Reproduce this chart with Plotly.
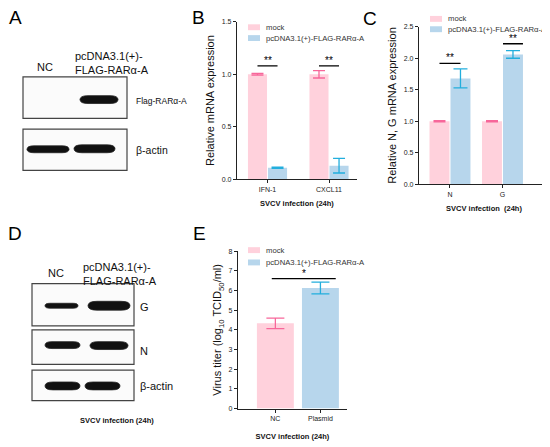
import plotly.graph_objects as go

# window is 550x447, the page body adds an 8 px margin
W, H = 550, 447
PAGE_MARGIN = 8
FW, FH = W - PAGE_MARGIN, H - PAGE_MARGIN

# ---- data ----
series_names = ["mock", "pcDNA3.1(+)-FLAG-RARα-A"]

b_genes = ["IFN-1", "CXCL11"]
b_mock = [1.0, 1.0]
b_mock_err = [0.008, 0.035]
b_rar = [0.11, 0.13]
b_rar_err = [0.005, 0.07]

c_genes = ["N", "G"]
c_mock = [1.0, 1.0]
c_mock_err = [0.008, 0.008]
c_rar = [1.68, 2.06]
c_rar_err = [0.15, 0.06]

e_groups = ["NC", "Plasmid"]
e_titer = [4.33, 6.13]
e_titer_err = [0.27, 0.30]

b_sig = ["**", "**"]
c_sig = ["**", "**"]
e_sig = ["*"]

PINK = "#FFD1DC"
BLUE = "#B7D6EC"
PINK_ERR = "#F7679A"
BLUE_ERR = "#22AEDD"
FONT = "Arial, Liberation Sans, sans-serif"


def px(x):
    # screen pixel -> paper fraction
    return (x - PAGE_MARGIN) / FW


def py(y):
    return 1 - (y - PAGE_MARGIN) / FH


fig = go.Figure()

# ---- B ----
bw, bg = 0.31, 0.008
fig.add_trace(go.Bar(x=b_genes, y=b_mock, width=bw, offset=-bw - bg,
                     marker=dict(color=PINK, line_width=0),
                     error_y=dict(array=b_mock_err, color=PINK_ERR, thickness=1.3, width=6),
                     xaxis="x", yaxis="y", showlegend=False))
fig.add_trace(go.Bar(x=b_genes, y=b_rar, width=bw, offset=bg,
                     marker=dict(color=BLUE, line_width=0),
                     error_y=dict(array=b_rar_err, color=BLUE_ERR, thickness=1.3, width=6),
                     xaxis="x", yaxis="y", showlegend=False))

# ---- C ----
cw, cg = 0.38, 0.01
fig.add_trace(go.Bar(x=c_genes, y=c_mock, width=cw, offset=-cw - cg,
                     marker=dict(color=PINK, line_width=0),
                     error_y=dict(array=c_mock_err, color=PINK_ERR, thickness=1.3, width=6),
                     xaxis="x2", yaxis="y2", showlegend=False))
fig.add_trace(go.Bar(x=c_genes, y=c_rar, width=cw, offset=cg,
                     marker=dict(color=BLUE, line_width=0),
                     error_y=dict(array=c_rar_err, color=BLUE_ERR, thickness=1.3, width=7),
                     xaxis="x2", yaxis="y2", showlegend=False))

# ---- E ----
ew = 0.82
fig.add_trace(go.Bar(x=e_groups[:1], y=e_titer[:1], width=ew, offset=-ew / 2,
                     marker=dict(color=PINK, line_width=0),
                     error_y=dict(array=e_titer_err[:1], color=PINK_ERR, thickness=1.3, width=9),
                     xaxis="x3", yaxis="y3", showlegend=False))
fig.add_trace(go.Bar(x=e_groups[1:], y=e_titer[1:], width=ew, offset=-ew / 2,
                     marker=dict(color=BLUE, line_width=0),
                     error_y=dict(array=e_titer_err[1:], color=BLUE_ERR, thickness=1.3, width=9),
                     xaxis="x3", yaxis="y3", showlegend=False))

shapes = []
annotations = []

# significance lines
def sig(xref, yref, x0, x1, y, text):
    shapes.append(dict(type="line", xref=xref, yref=yref, x0=x0, x1=x1, y0=y, y1=y,
                       line=dict(color="black", width=1.3)))
    annotations.append(dict(xref=xref, yref=yref, x=(x0 + x1) / 2, y=y, text=text,
                            showarrow=False, yanchor="bottom", yshift=-2,
                            font=dict(size=10, color="black", family=FONT)))

hb = (bw + bg) / 2 + bg / 2
for i, s in enumerate(b_sig):
    sig("x", "y", i - hb, i + hb, 1.08, s)
hc = (cw + cg) / 2 + cg / 2
sig("x2", "y2", 0 - hc, 0 + hc, 1.92, c_sig[0])
sig("x2", "y2", 1 + cg, 1 + cg + cw, 2.23, c_sig[1])
sig("x3", "y3", -0.08, 1.34, 6.6, e_sig[0])

# manual legends
def legend(x, rows):
    for (yc, color), name in zip(rows, series_names):
        shapes.append(dict(type="rect", xref="paper", yref="paper",
                           x0=px(x), x1=px(x + 12), y0=py(yc + 3), y1=py(yc - 3),
                           fillcolor=color, line_width=0))
        annotations.append(dict(xref="paper", yref="paper", x=px(x + 16), y=py(yc),
                                text=name, showarrow=False, xanchor="left", yanchor="middle",
                                font=dict(size=7.7, color="#333", family=FONT)))

legend(248, [(23.5, PINK), (34.5, BLUE)])
legend(430, [(15, PINK), (25.5, BLUE)])
legend(248, [(250, PINK), (262.5, BLUE)])

# panel letters
for letter, (lx, ly) in {"A": (15, 14), "B": (198, 14), "C": (370, 15),
                         "D": (15, 233), "E": (199, 233)}.items():
    annotations.append(dict(xref="paper", yref="paper", x=px(lx), y=py(ly), text=letter,
                            showarrow=False, xanchor="center", yanchor="middle",
                            font=dict(size=19, color="black", family=FONT)))


# ---- western blot sketches ----
def box(x0, y0, x1, y1):
    shapes.append(dict(type="rect", xref="paper", yref="paper",
                       x0=px(x0), x1=px(x1), y0=py(y1), y1=py(y0),
                       line=dict(color="#444", width=1.2), fillcolor="#FBFBFB"))


def band(x0, x1, y0, y1):
    r = (y1 - y0) / 2
    ym = (y0 + y1) / 2
    pts = [
        f"M{px(x0)},{py(ym)}",
        f"Q{px(x0)},{py(y0)} {px(x0 + r * 2)},{py(y0)}",
        f"L{px(x1 - r * 2)},{py(y0)}",
        f"Q{px(x1)},{py(y0)} {px(x1)},{py(ym)}",
        f"Q{px(x1)},{py(y1)} {px(x1 - r * 2)},{py(y1)}",
        f"L{px(x0 + r * 2)},{py(y1)}",
        f"Q{px(x0)},{py(y1)} {px(x0)},{py(ym)}",
        "Z",
    ]
    shapes.append(dict(type="path", xref="paper", yref="paper", path=" ".join(pts),
                       fillcolor="#111", line=dict(color="#222", width=0.8)))


def label(x, y, text, size, anchor="left"):
    annotations.append(dict(xref="paper", yref="paper", x=px(x), y=py(y), text=text,
                            showarrow=False, xanchor=anchor, yanchor="middle", align="left",
                            font=dict(size=size, color="#111", family=FONT)))


# A
box(23, 74, 127, 116)
box(23, 127, 127, 169)
band(80, 118, 93, 101)
band(27, 69, 144, 151)
band(74, 115, 143, 151)
label(45, 64, "NC", 11, "center")
label(73, 60, "pcDNA3.1(+)-<br>FLAG-RARα-A", 11)
label(134, 98, "Flag-RARα-A", 8.5)
label(134, 148, "β-actin", 10.5)

# D
box(32, 284, 134, 327)
box(32, 331, 134, 366)
box(32, 372, 134, 403)
band(45, 78, 304, 309)
band(88, 130, 302, 311)
band(45, 80, 343, 350)
band(90, 128, 343, 351)
band(45, 80, 384, 392)
band(85, 120, 384, 392)
label(56, 273, "NC", 11, "center")
label(81, 274, "pcDNA3.1(+)-<br>FLAG-RARα-A", 11)
label(138, 308, "G", 11)
label(138, 353, "N", 11)
label(138, 388, "β-actin", 11)
annotations.append(dict(xref="paper", yref="paper", x=px(78), y=py(430),
                        text="<b>SVCV infection (24h)</b>", showarrow=False,
                        font=dict(size=7.5, color="#111", family=FONT)))

# ---- axes ----
tickfont = dict(size=7, color="#222", family=FONT)
xtitle_font = dict(size=7.5, color="#111", family=FONT)
ytitle_font = dict(size=11, color="#111", family=FONT)
axis_common = dict(showgrid=False, zeroline=False, showline=True, linecolor="#222",
                   linewidth=1.2, ticks="outside", ticklen=3, tickwidth=1.2,
                   tickcolor="#222", tickfont=tickfont)

fig.update_layout(
    width=FW, height=FH,
    margin=dict(l=0, r=0, t=0, b=0),
    plot_bgcolor="white", paper_bgcolor="white",
    barmode="overlay",
    font=dict(family=FONT),
    xaxis=dict(domain=[px(237), px(357)], anchor="y", type="category",
               range=[-0.496, 1.455],
               title=dict(text="<b>SVCV infection (24h)</b>", font=xtitle_font, standoff=8),
               **axis_common),
    yaxis=dict(domain=[py(178), py(18)], anchor="x", range=[0, 1.5], dtick=0.5,
               tickformat=".1f",
               title=dict(text="Relative mRNA expression", font=ytitle_font, standoff=4),
               **axis_common),
    xaxis2=dict(domain=[px(419), px(549)], anchor="y2", type="category",
                range=[-0.59, 1.886],
                title=dict(text="<b>SVCV infection  (24h)</b>", font=xtitle_font, standoff=9),
                **axis_common),
    yaxis2=dict(domain=[py(183), py(23)], anchor="x2", range=[0, 2.5], dtick=0.5,
                tickformat=".1f",
                title=dict(text="Relative N, G mRNA expression", font=ytitle_font, standoff=4),
                **axis_common),
    xaxis3=dict(domain=[px(238), px(347)], anchor="y3", type="category",
                range=[-0.83, 1.59],
                title=dict(text="<b>SVCV infection (24h)</b>", font=xtitle_font, standoff=12),
                **axis_common),
    yaxis3=dict(domain=[py(411), py(251)], anchor="x3", range=[0, 8], dtick=1,
                title=dict(text="Virus titer (log<sub>10</sub> TCID<sub>50</sub>/ml)",
                           font=ytitle_font, standoff=4),
                **axis_common),
    shapes=shapes,
    annotations=annotations,
)

fig.write_html("out.html")
